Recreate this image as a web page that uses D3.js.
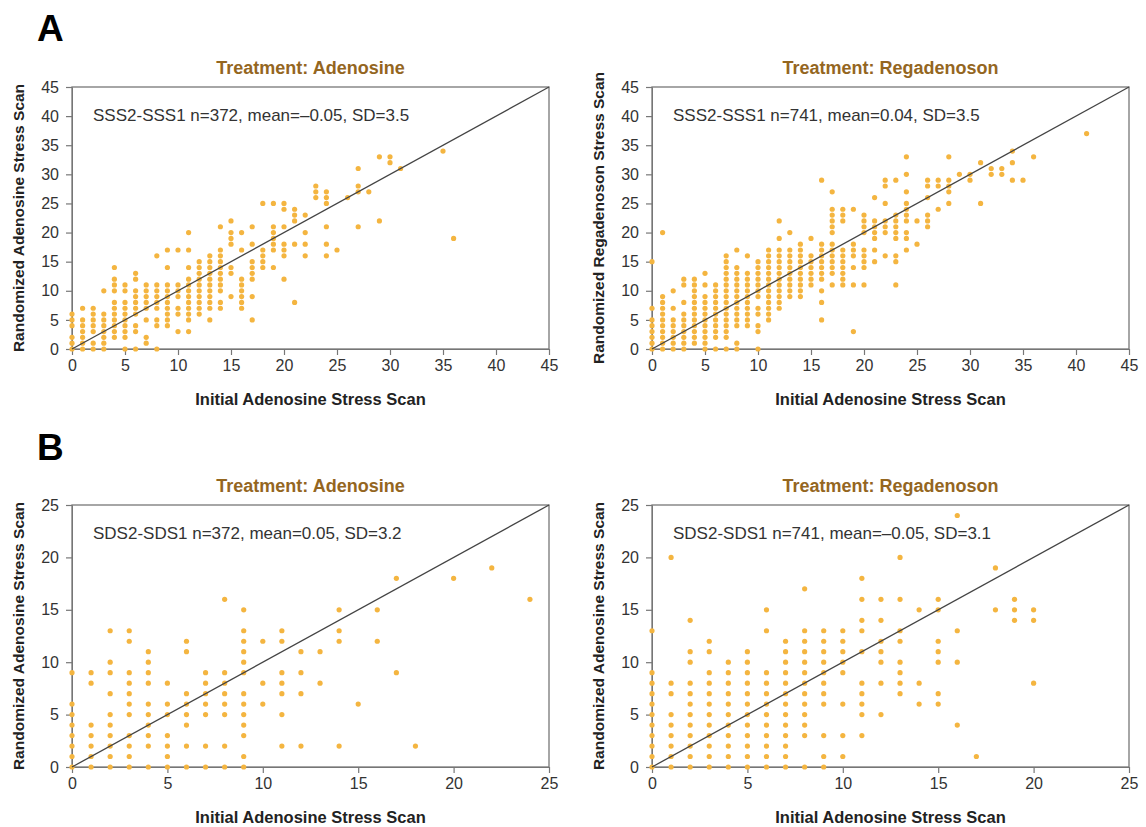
<!DOCTYPE html>
<html>
<head>
<meta charset="utf-8">
<script src="https://cdn.jsdelivr.net/npm/d3@7"></script>
<style>
  body { margin:0; background:#fff; }
  svg { font-family: "Liberation Sans", Arial, Helvetica, sans-serif; }
  .tick text { font-size:16px; fill:#333; }
  .tick line, .domain { stroke:#777; }
</style>
</head>
<body>
<svg id="chart" width="1146" height="827"></svg>
<script>
// ── data: [initial score, [randomized scores at that initial score]] ──
const sssAdenosine = [
  [0,[0,1,2,4,5,6]], [1,[0,1,2,3,4,5,7]], [2,[0,1,3,4,5,6,7]], [3,[0,1,2,3,4,5,6,10]],
  [4,[2,3,4,5,6,7,8,10,11,12,14]], [5,[0,2,3,4,5,6,7,8,10,11]], [6,[0,3,4,6,7,8,9,10,12,13]],
  [7,[1,2,5,7,8,9,10,11]], [8,[0,4,5,7,8,9,10,11,16]], [9,[4,5,6,7,8,9,10,11,14,17]],
  [10,[3,6,7,9,10,11,17]], [11,[3,5,6,7,8,9,10,11,12,14,17,20]], [12,[6,7,8,9,10,11,12,13,14,15]],
  [13,[5,7,8,9,10,11,12,13,14,15,16]], [14,[7,8,10,11,12,13,14,15,16,17,21]],
  [15,[9,13,14,18,19,20,22]], [16,[7,8,9,10,11,12,17,20]], [17,[5,9,12,13,14,15,18,21]],
  [18,[14,15,16,17,25]], [19,[14,17,18,19,20,21,25]], [20,[12,16,17,18,21,24,25]],
  [21,[8,18,22,23,24]], [22,[16,18,20,23]], [23,[26,27,28]], [24,[16,18,21,25,26,27]],
  [25,[17]], [26,[26]], [27,[21,27,28,31]], [28,[27]], [29,[22,33]], [30,[32,33]],
  [31,[31]], [35,[34]], [36,[19]]
];
const sssRegadenoson = [
  [0,[0,1,2,3,4,5,7,15]], [1,[0,1,2,3,4,5,6,7,8,9,20]], [2,[0,1,2,3,4,5,7,10]],
  [3,[0,1,2,3,4,5,6,8,11,12]], [4,[1,2,3,4,5,6,7,8,9,10,11,12]], [5,[0,1,2,3,4,5,6,7,8,9,11,13]],
  [6,[0,2,3,4,5,6,7,8,9,10,11]], [7,[0,2,3,4,5,6,7,8,9,10,11,12,13,14,15,16]],
  [8,[0,1,4,5,6,7,8,9,10,11,12,13,14,17]], [9,[4,5,6,7,8,9,10,11,12,13,16]],
  [10,[0,3,4,6,7,9,10,11,12,13,14,15]], [11,[5,6,7,8,9,10,11,12,13,14,15,16,17]],
  [12,[7,8,9,10,11,12,13,14,15,16,17,19,22]], [13,[9,10,11,12,13,14,15,16,17,20]],
  [14,[9,10,11,12,13,14,15,16,17,18]], [15,[11,12,13,14,15,16,19]],
  [16,[5,8,10,12,13,14,15,16,17,18,29]], [17,[11,13,14,15,16,17,18,20,21,22,23,24,27]],
  [18,[11,12,13,14,15,16,17,22,23,24]], [19,[3,11,14,16,17,18,24]],
  [20,[11,14,15,16,17,20,21,22,23]], [21,[15,17,19,20,21,22,26]], [22,[16,20,21,22,25,28,29]],
  [23,[11,15,16,19,20,21,22,23,29]], [24,[17,19,20,22,23,24,25,27,30,33]], [25,[18,22]],
  [26,[21,22,23,26,28,29]], [27,[24,28,29]], [28,[25,27,28,29,33]], [29,[30]], [30,[29,30]],
  [31,[25,32]], [32,[30,31]], [33,[30,31]], [34,[29,32,34]], [35,[29]], [36,[33]], [41,[37]]
];
const sdsAdenosine = [
  [0,[0,1,2,3,4,5,6,9]], [1,[0,1,2,3,4,8,9]], [2,[0,1,2,3,4,5,7,9,10,13]],
  [3,[0,1,2,3,5,6,7,8,9,12,13]], [4,[0,2,3,4,5,6,8,9,10,11]], [5,[0,1,2,3,5,6,8]],
  [6,[0,2,4,5,6,7,11,12]], [7,[0,2,5,6,7,8,9]], [8,[0,2,5,6,7,8,9,16]],
  [9,[0,1,3,4,5,6,7,9,10,11,12,13,15]], [10,[6,8,12]], [11,[2,5,7,8,9,12,13]],
  [12,[2,7,9,11]], [13,[8,11]], [14,[2,12,13,15]], [15,[6]], [16,[12,15]],
  [17,[9,18]], [18,[2]], [20,[18]], [22,[19]], [24,[16]]
];
const sdsRegadenoson = [
  [0,[0,1,2,3,4,5,6,7,8,9,13]], [1,[0,1,2,3,4,5,7,8,20]], [2,[0,1,2,3,4,5,6,7,8,10,11,14]],
  [3,[0,1,2,3,4,5,6,7,8,9,11,12]], [4,[0,1,2,3,4,5,6,7,8,9,10]],
  [5,[0,1,2,3,4,5,6,7,8,9,10,11]], [6,[0,1,2,3,4,5,6,7,8,9,13,15]],
  [7,[0,1,2,3,4,5,6,7,8,9,10,11,12]], [8,[0,3,4,5,6,7,8,9,10,11,12,13,17]],
  [9,[0,1,3,6,7,8,9,10,11,12,13]], [10,[1,3,6,9,10,11,12,13]],
  [11,[3,5,6,7,8,11,13,14,16,18]], [12,[5,8,10,11,12,14,16]], [13,[7,8,9,10,12,13,16,20]],
  [14,[6,8,15]], [15,[6,7,10,11,12,15,16]], [16,[4,10,13,24]], [17,[1]],
  [18,[15,19]], [19,[14,15,16]], [20,[8,14,15]]
];

const sssTicks = [0,5,10,15,20,25,30,35,40,45];
const sdsTicks = [0,5,10,15,20,25];

const panels = [
  { data:sssAdenosine,   max:45, ticks:sssTicks, x:72,  y:87,  title:'Treatment: Adenosine',
    note:'SSS2-SSS1 n=372, mean=\u20130.05, SD=3.5', ylab:'Randomized Adenosine Stress Scan' },
  { data:sssRegadenoson, max:45, ticks:sssTicks, x:652, y:87,  title:'Treatment: Regadenoson',
    note:'SSS2-SSS1 n=741, mean=0.04, SD=3.5', ylab:'Randomized Regadenoson Stress Scan' },
  { data:sdsAdenosine,   max:25, ticks:sdsTicks, x:72,  y:505, title:'Treatment: Adenosine',
    note:'SDS2-SDS1 n=372, mean=0.05, SD=3.2', ylab:'Randomized Adenosine Stress Scan' },
  { data:sdsRegadenoson, max:25, ticks:sdsTicks, x:652, y:505, title:'Treatment: Regadenoson',
    note:'SDS2-SDS1 n=741, mean=\u20130.05, SD=3.1', ylab:'Randomized Adenosine Stress Scan' },
];

const PW = 477, PH = 262;
const svg = d3.select('#chart');

// panel letters
svg.append('text').attr('x',37).attr('y',41).attr('font-size',37).attr('font-weight','bold').text('A');
svg.append('text').attr('x',37).attr('y',460).attr('font-size',37).attr('font-weight','bold').text('B');

panels.forEach(p => {
  const g = svg.append('g').attr('transform',`translate(${p.x},${p.y})`);
  const xs = d3.scaleLinear().domain([0,p.max]).range([0,PW]);
  const ys = d3.scaleLinear().domain([0,p.max]).range([PH,0]);

  // axes
  g.append('g').attr('transform',`translate(0,${PH})`)
    .call(d3.axisBottom(xs).tickValues(p.ticks).tickSize(6).tickPadding(5).tickSizeOuter(0))
    .call(a => a.selectAll('.tick line').attr('stroke-width',1.2));
  g.append('g')
    .call(d3.axisLeft(ys).tickValues(p.ticks).tickSize(6).tickPadding(7).tickSizeOuter(0))
    .call(a => a.selectAll('.tick line').attr('stroke-width',1.2));

  // frame
  g.append('rect').attr('width',PW).attr('height',PH)
    .attr('fill','none').attr('stroke','#777').attr('stroke-width',1.3);

  // points
  const pts = p.data.flatMap(([xv, list]) => list.map(yv => [xv, yv]));
  g.append('g').selectAll('circle').data(pts).join('circle')
    .attr('cx', d => xs(d[0])).attr('cy', d => ys(d[1]))
    .attr('r', 2.6).attr('fill','#f4b540');

  // identity line
  g.append('line')
    .attr('x1',xs(0)).attr('y1',ys(0)).attr('x2',xs(p.max)).attr('y2',ys(p.max))
    .attr('stroke','#444').attr('stroke-width',1.3);

  // annotation
  g.append('text').attr('x',21).attr('y',34).attr('font-size',17).attr('fill','#333').text(p.note);

  // title
  g.append('text').attr('x',PW/2).attr('y',-13).attr('text-anchor','middle')
    .attr('font-size',18).attr('font-weight','bold').attr('fill','#94661f').text(p.title);

  // axis labels
  g.append('text').attr('x',PW/2).attr('y',PH+56).attr('text-anchor','middle')
    .attr('font-size',16.5).attr('font-weight','bold').attr('fill','#222').text('Initial Adenosine Stress Scan');
  g.append('text').attr('transform',`translate(-48,${PH/2}) rotate(-90)`).attr('text-anchor','middle')
    .attr('font-size',15.5).attr('font-weight','bold').attr('fill','#222').text(p.ylab);
});
</script>
</body>
</html>
